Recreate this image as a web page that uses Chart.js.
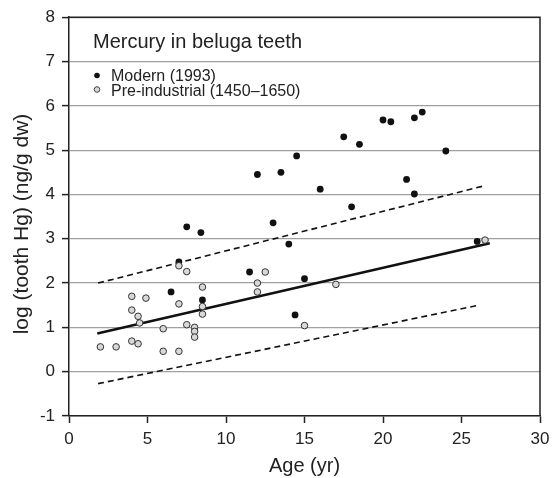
<!DOCTYPE html>
<html>
<head>
<meta charset="utf-8">
<script src="https://cdn.jsdelivr.net/npm/chart.js@4.4.0/dist/chart.umd.min.js"></script>
<style>
  html, body { margin: 0; padding: 0; background: #fff; }
  #wrap { width: 552px; height: 478px; }
</style>
</head>
<body>
<div id="wrap"><canvas id="chart" width="552" height="478"></canvas></div>
<script>
// Modern (1993) belugas
const modernAge = [7, 6.5, 7.5, 8.4, 8.5, 11.5, 12, 13, 13.5, 14, 14.5, 14.4, 15, 16, 17.5, 18, 18.5, 20, 20.5, 21.5, 22, 22.5, 22, 24, 26];
const modernHg = [2.48, 1.8, 3.27, 3.14, 1.62, 2.25, 4.45, 3.36, 4.5, 2.88, 4.87, 1.28, 2.1, 4.12, 5.3, 3.72, 5.13, 5.68, 5.64, 4.34, 5.73, 5.86, 4.01, 4.98, 2.94];

// Pre-industrial (1450-1650) belugas
const preAge = [2, 3, 4, 4, 4, 4.4, 4.5, 4.4, 4.9, 6, 6, 7, 7, 7, 7.5, 7.5, 8, 8, 8, 8.5, 8.5, 8.5, 12, 12, 12.5, 15, 17, 26.5];
const preHg = [0.56, 0.56, 1.7, 1.39, 0.69, 1.25, 1.1, 0.63, 1.66, 0.97, 0.46, 1.53, 0.46, 2.39, 2.26, 1.06, 1.0, 0.91, 0.78, 1.91, 1.47, 1.3, 2.0, 1.8, 2.25, 1.04, 1.97, 2.97];

// Regression line and prediction band (end points)
const fitX = [1.8, 26.8];
const fitY = [0.86, 2.9];
const upperX = [1.85, 26.4];
const upperY = [2.0, 4.19];
const lowerX = [1.85, 26.1];
const lowerY = [-0.27, 1.5];

// Axis ticks
const xTicks = [0, 5, 10, 15, 20, 25, 30];
const yTicks = [-1, 0, 1, 2, 3, 4, 5, 6, 7, 8];

const legendTitle = "Mercury in beluga teeth";
const legendLabels = ["Modern (1993)", "Pre-industrial (1450\u20131650)"];
const yTitle = "log (tooth Hg) (ng/g dw)";

const FONT = "'Liberation Sans', Arial, Helvetica, sans-serif";

function toPoints(xs, ys) {
  return xs.map(function (x, i) { return { x: x, y: ys[i] }; });
}

// Draws the box around the plot, the y title and the legend in the top-left corner
const boxAndLegend = {
  id: "boxAndLegend",
  afterDatasetsDraw(chart) {
    const ctx = chart.ctx;
    const a = chart.chartArea;
    ctx.save();
    ctx.strokeStyle = "#222";
    ctx.lineWidth = 1.5;
    ctx.beginPath();
    ctx.moveTo(a.left, a.top);
    ctx.lineTo(a.right, a.top);
    ctx.lineTo(a.right, a.bottom);
    ctx.stroke();

    // y axis title
    ctx.save();
    ctx.translate(22, 224);
    ctx.rotate(-Math.PI / 2);
    ctx.fillStyle = "#222";
    ctx.font = "21px " + FONT;
    ctx.textAlign = "center";
    ctx.textBaseline = "middle";
    ctx.fillText(yTitle, 0, 0);
    ctx.restore();

    ctx.fillStyle = "#222";
    ctx.textBaseline = "alphabetic";
    ctx.textAlign = "left";
    ctx.font = "20px " + FONT;
    ctx.fillText(legendTitle, 93, 48);

    ctx.font = "16px " + FONT;
    ctx.fillText(legendLabels[0], 111, 81);
    ctx.fillText(legendLabels[1], 111, 95.5);

    ctx.beginPath();
    ctx.arc(97, 75.5, 2.8, 0, Math.PI * 2);
    ctx.fillStyle = "#111";
    ctx.fill();

    ctx.beginPath();
    ctx.arc(97, 89.5, 2.8, 0, Math.PI * 2);
    ctx.fillStyle = "#d8d8d8";
    ctx.fill();
    ctx.strokeStyle = "#333";
    ctx.lineWidth = 0.9;
    ctx.stroke();
    ctx.restore();
  },
};

new Chart(document.getElementById("chart"), {
  type: "scatter",
  data: {
    datasets: [
      {
        label: legendLabels[0],
        data: toPoints(modernAge, modernHg),
        pointRadius: 3.4,
        pointBackgroundColor: "#111",
        pointBorderWidth: 0,
        order: 1,
      },
      {
        label: legendLabels[1],
        data: toPoints(preAge, preHg),
        pointRadius: 3.3,
        pointBackgroundColor: "#d8d8d8",
        pointBorderColor: "#333",
        pointBorderWidth: 1,
        order: 0,
      },
      {
        label: "fit",
        data: toPoints(fitX, fitY),
        showLine: true,
        pointRadius: 0,
        borderColor: "#111",
        borderWidth: 2.5,
        order: 2,
      },
      {
        label: "upper",
        data: toPoints(upperX, upperY),
        showLine: true,
        pointRadius: 0,
        borderColor: "#111",
        borderWidth: 1.6,
        borderDash: [6, 4],
        order: 3,
      },
      {
        label: "lower",
        data: toPoints(lowerX, lowerY),
        showLine: true,
        pointRadius: 0,
        borderColor: "#111",
        borderWidth: 1.6,
        borderDash: [6, 4],
        order: 3,
      },
    ],
  },
  options: {
    responsive: false,
    animation: false,
    layout: { padding: { top: 17, right: 12, left: 0, bottom: 0 } },
    plugins: {
      legend: { display: false },
      tooltip: { enabled: false },
    },
    scales: {
      x: {
        type: "linear",
        min: 0,
        max: 30,
        afterBuildTicks(scale) {
          scale.ticks = xTicks.map(function (v) { return { value: v }; });
        },
        afterFit(scale) {
          scale.height = 62;
          scale.paddingRight = 0;
          scale.paddingLeft = 0;
        },
        border: { color: "#222", width: 1.5 },
        grid: { drawOnChartArea: false, tickLength: 7, tickColor: "#222", tickWidth: 1.5 },
        ticks: { color: "#222", font: { family: FONT, size: 17 }, padding: 6, maxRotation: 0 },
        title: {
          display: true,
          text: "Age (yr)",
          color: "#222",
          font: { family: FONT, size: 20 },
          padding: { top: 0, bottom: 0 },
        },
      },
      y: {
        type: "linear",
        min: -1,
        max: 8,
        afterBuildTicks(scale) {
          scale.ticks = yTicks.map(function (v) { return { value: v }; });
        },
        afterFit(scale) { scale.width = 69; },
        border: { color: "#222", width: 1.5 },
        grid: {
          color: "#a0a0a0",
          lineWidth: 1.2,
          tickLength: 7,
          tickColor: "#222",
          tickWidth: 1.5,
        },
        ticks: { color: "#222", font: { family: FONT, size: 17 }, padding: 7 },
      },
    },
  },
  plugins: [boxAndLegend],
});
</script>
</body>
</html>
